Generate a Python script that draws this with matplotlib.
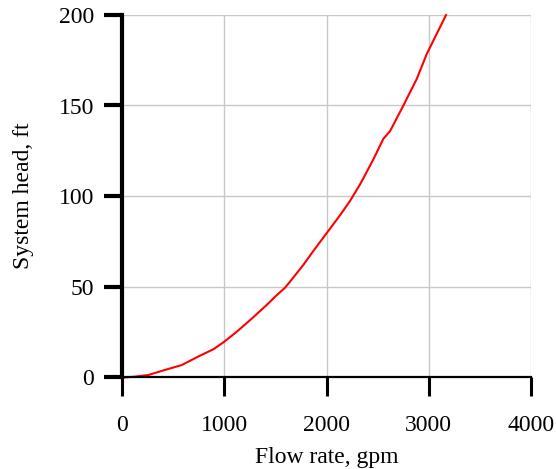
import numpy as np
import matplotlib
matplotlib.use("Agg")
import matplotlib.pyplot as plt

plt.rcParams['font.family'] = ['Liberation Serif', 'DejaVu Serif']
plt.rcParams.update({'font.size': 17})

# values
flow = [0, 127, 257, 420, 584, 763, 893, 998, 1122, 1268, 1415, 1513, 1594,
        1676, 1773, 1871, 1995, 2067, 2132, 2165, 2230, 2328, 2458, 2556,
        2621, 2751, 2882, 2980, 3078, 3169]
head = [-0.4, 0.2, 1.1, 3.9, 6.6, 11.8, 15.3, 19.4, 25.0, 32.2, 39.8, 45.2,
        49.3, 55.0, 61.9, 69.6, 79.0, 84.4, 89.4, 92.0, 97.3, 106.4, 120.2,
        131.6, 135.8, 149.9, 164.6, 178.4, 189.6, 200.0]
xticks = [0, 1000, 2000, 3000, 4000]
yticks = [0, 50, 100, 150, 200]

fig = plt.figure(figsize=(5.56, 4.69), dpi=100)
ax = fig.add_axes([122/556, 1 - 377/469, 409/556, 362/469])

ax.plot(flow, head, '-', color='red', lw=1.5, clip_on=False, zorder=3)

ax.set_xlim(0, 4000)
ax.set_ylim(0, 200)
ax.set_xticks(xticks)
ax.set_yticks(yticks)
ax.grid(True, color='#c8c8c8', lw=1)
ax.set_axisbelow(True)

for s in ['top', 'right']:
    ax.spines[s].set_visible(False)
ax.spines['left'].set_linewidth(3)
ax.spines['left'].set_zorder(4)
ax.spines['bottom'].set_linewidth(1.6)
ax.spines['bottom'].set_zorder(4)

ax.tick_params(axis='x', direction='out', length=13.5, width=2.2, pad=14)
ax.tick_params(axis='y', direction='out', length=13, width=3, pad=7)

ax.set_xlabel('Flow rate, gpm', labelpad=8)
ax.set_ylabel('System head, ft', labelpad=18)

fig.savefig('out.png', dpi=100)
